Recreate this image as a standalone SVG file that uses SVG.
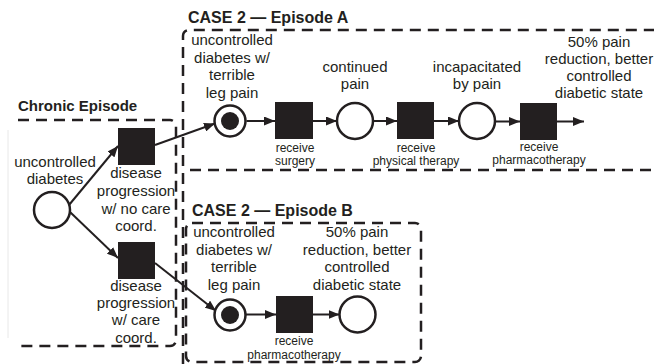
<svg xmlns="http://www.w3.org/2000/svg" width="654" height="364" viewBox="0 0 654 364">
  <defs>
    <marker id="arr" markerUnits="userSpaceOnUse" markerWidth="11" markerHeight="9" refX="11" refY="4.5" orient="auto">
      <path d="M0,0 L11,4.5 L0,9 z" fill="#231f20"/>
    </marker>
    <style>
      text { font-family: "Liberation Sans", Arial, sans-serif; fill: #231f20; }
      .lbl { font-size: 15px; text-anchor: middle; }
      .sm { font-size: 12px; text-anchor: middle; }
      .ttl { font-size: 15px; font-weight: bold; }
      .case { font-size: 16px; }
      .box { fill: none; stroke: #231f20; stroke-width: 2.5; stroke-dasharray: 11 7; }
      .place { fill: #fff; stroke: #231f20; stroke-width: 2.5; }
      .tok { fill: #231f20; }
      .trans { fill: #231f20; }
      .arc { stroke: #231f20; stroke-width: 2; fill: none; marker-end: url(#arr); }
    </style>
  </defs>
  <rect width="654" height="364" fill="#fff"/>

  <g id="boxes">
    <line x1="8" y1="130" x2="8" y2="338" stroke="#e8e8e8" stroke-width="1"/>
    <path class="box" d="M18,120 H170 A6,6 0 0 1 176,126 V340 A6,6 0 0 1 170,346 H18"/>
    <path class="box" d="M183,364 V36 A6,6 0 0 1 189,30 H654"/>
    <path class="box" d="M190,170 H654"/>
    <rect class="box" x="186" y="223" width="235" height="139" rx="6"/>
    <text class="ttl" x="18" y="111">Chronic Episode</text>
    <text class="ttl case" x="188" y="23">CASE 2 — Episode A</text>
    <text class="ttl case" x="192" y="216">CASE 2 — Episode B</text>
  </g>

  <g id="connectors">
    <line class="arc" x1="69" y1="205" x2="118" y2="146"/>
    <line class="arc" x1="70" y1="212" x2="118" y2="258"/>
    <line class="arc" x1="155" y1="145" x2="215" y2="123.5"/>
    <line class="arc" x1="155" y1="263" x2="216" y2="311"/>
    <line class="arc" x1="246.5" y1="121" x2="275" y2="121"/>
    <line class="arc" x1="313" y1="121" x2="337" y2="121"/>
    <line class="arc" x1="373" y1="121" x2="397" y2="121"/>
    <line class="arc" x1="434" y1="121" x2="459" y2="121"/>
    <line class="arc" x1="495" y1="121.5" x2="520" y2="121.5"/>
    <line class="arc" x1="557" y1="121.5" x2="584" y2="121.5"/>
    <line class="arc" x1="245.5" y1="314.5" x2="276" y2="314.5"/>
    <line class="arc" x1="313" y1="314.5" x2="339.5" y2="314.5"/>
  </g>

  <g id="p-start">
    <circle class="place" cx="52" cy="210" r="18"/>
    <text class="lbl" x="55" y="167">uncontrolled</text>
    <text class="lbl" x="55" y="184">diabetes</text>
  </g>
  <g id="t-no-care">
    <rect class="trans" x="118" y="128" width="37" height="37"/>
    <text class="lbl" x="136" y="178">disease</text>
    <text class="lbl" x="136" y="196">progression</text>
    <text class="lbl" x="136" y="214">w/ no care</text>
    <text class="lbl" x="136" y="231">coord.</text>
  </g>
  <g id="t-care">
    <rect class="trans" x="118" y="242" width="37" height="37"/>
    <text class="lbl" x="136" y="291">disease</text>
    <text class="lbl" x="136" y="308">progression</text>
    <text class="lbl" x="136" y="325">w/ care</text>
    <text class="lbl" x="136" y="343">coord.</text>
  </g>

  <g id="a-p1">
    <circle class="place" cx="230" cy="121" r="15.5"/>
    <circle class="tok" cx="230" cy="121" r="9"/>
    <text class="lbl" x="232" y="45">uncontrolled</text>
    <text class="lbl" x="232" y="62.5">diabetes w/</text>
    <text class="lbl" x="232" y="80">terrible</text>
    <text class="lbl" x="232" y="97.5">leg pain</text>
  </g>
  <g id="a-t-surgery">
    <rect class="trans" x="275" y="102" width="38" height="37"/>
    <text class="sm" x="295" y="152">receive</text>
    <text class="sm" x="295" y="165">surgery</text>
  </g>
  <g id="a-p2">
    <circle class="place" cx="355" cy="121" r="18"/>
    <text class="lbl" x="355" y="72">continued</text>
    <text class="lbl" x="355" y="89">pain</text>
  </g>
  <g id="a-t-pt">
    <rect class="trans" x="397" y="102" width="37" height="37"/>
    <text class="sm" x="416" y="152">receive</text>
    <text class="sm" x="416" y="165">physical therapy</text>
  </g>
  <g id="a-p3">
    <circle class="place" cx="477" cy="121" r="18"/>
    <text class="lbl" x="477" y="72">incapacitated</text>
    <text class="lbl" x="477" y="89">by pain</text>
  </g>
  <g id="a-t-pharma">
    <rect class="trans" x="520" y="103" width="37" height="37"/>
    <text class="sm" x="539" y="151">receive</text>
    <text class="sm" x="539" y="164">pharmacotherapy</text>
  </g>
  <g id="a-end">
    <text class="lbl" x="599" y="47">50% pain</text>
    <text class="lbl" x="599" y="64">reduction, better</text>
    <text class="lbl" x="599" y="81">controlled</text>
    <text class="lbl" x="599" y="98">diabetic state</text>
  </g>

  <g id="b-p1">
    <circle class="place" cx="230" cy="315" r="15.5"/>
    <circle class="tok" cx="230" cy="315" r="9"/>
    <text class="lbl" x="234" y="237">uncontrolled</text>
    <text class="lbl" x="234" y="255">diabetes w/</text>
    <text class="lbl" x="234" y="272">terrible</text>
    <text class="lbl" x="234" y="290">leg pain</text>
  </g>
  <g id="b-t-pharma">
    <rect class="trans" x="276" y="296" width="37" height="37"/>
    <text class="sm" x="294" y="345">receive</text>
    <text class="sm" x="294" y="359">pharmacotherapy</text>
  </g>
  <g id="b-p2">
    <circle class="place" cx="357.5" cy="314.5" r="18"/>
    <text class="lbl" x="357" y="237">50% pain</text>
    <text class="lbl" x="357" y="255">reduction, better</text>
    <text class="lbl" x="357" y="272">controlled</text>
    <text class="lbl" x="357" y="290">diabetic state</text>
  </g>
</svg>
